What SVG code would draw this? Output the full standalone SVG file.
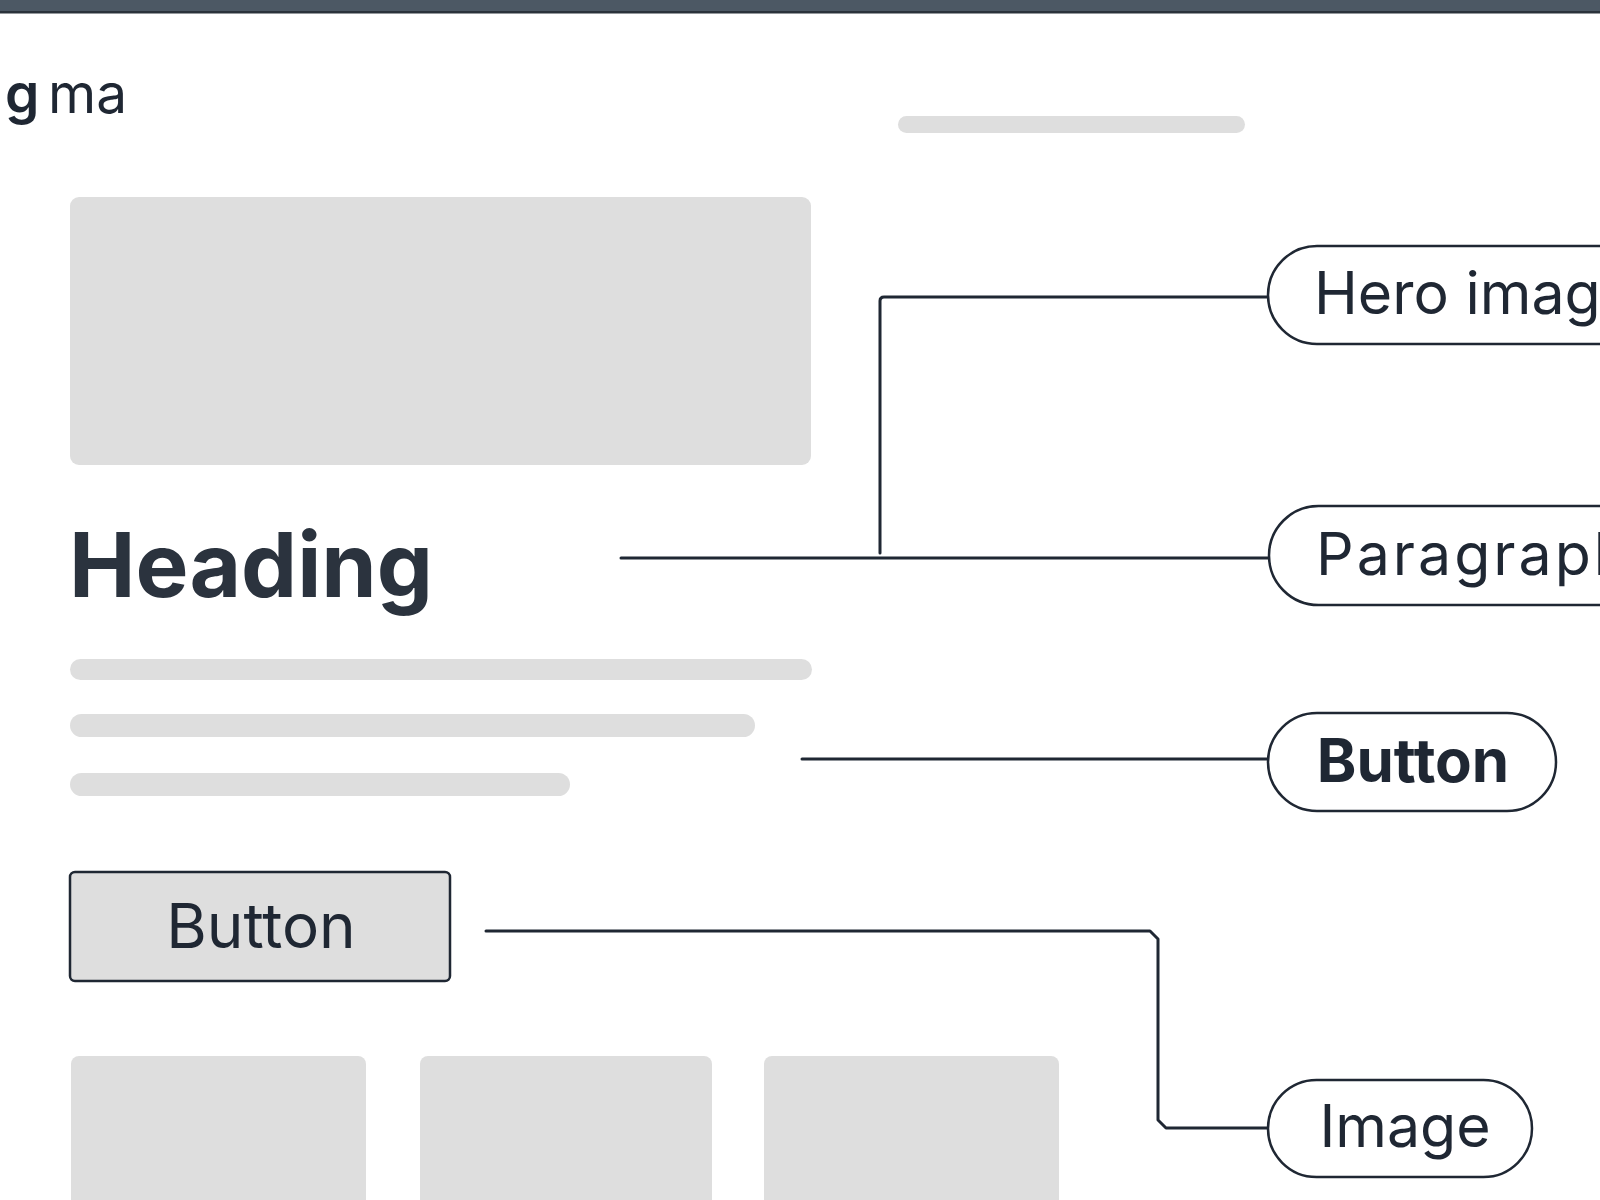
<svg xmlns="http://www.w3.org/2000/svg" width="1600" height="1200" viewBox="0 0 1600 1200">
<style>
.ph{fill:#dedede}
.t{font-family:Inter,"Liberation Sans",sans-serif;fill:#1f2733}
.pill{fill:#ffffff;stroke:#1f2733;stroke-width:2.5}
.conn{fill:none;stroke:#1f2733;stroke-width:3;stroke-linecap:round;stroke-linejoin:round}
</style>
<rect x="0" y="0" width="1600" height="1200" fill="#ffffff"/>
<g id="topbar">
<rect x="0" y="0" width="1600" height="13" fill="#4c5864"/>
<rect x="0" y="11" width="1600" height="2.5" fill="#2a323b"/>
</g>
<g id="logo"><text class="t" y="113" font-size="55"><tspan x="5" font-weight="600">g</tspan><tspan x="48">ma</tspan></text></g>
<g id="nav-bar"><rect class="ph" x="898" y="116" width="347" height="17" rx="8.5"/></g>
<g id="hero"><rect class="ph" x="70" y="197" width="741" height="268" rx="9"/></g>
<g id="heading"><text class="t" x="69" y="597" font-size="89" font-weight="700" style="fill:#2b333e">Heading</text></g>
<g id="paragraph">
<rect class="ph" x="70" y="659" width="742" height="21" rx="10.5"/>
<rect class="ph" x="70" y="714" width="685" height="23" rx="11.5"/>
<rect class="ph" x="70" y="773" width="500" height="23" rx="11.5"/>
</g>
<g id="button">
<rect x="70" y="872" width="380" height="109" rx="5" fill="#dedede" stroke="#1f2733" stroke-width="2.5"/>
<text class="t" x="261" y="948" font-size="62" text-anchor="middle">Button</text>
</g>
<g id="cards">
<rect class="ph" x="71" y="1056" width="295" height="170" rx="8"/>
<rect class="ph" x="420" y="1056" width="292" height="170" rx="8"/>
<rect class="ph" x="764" y="1056" width="295" height="170" rx="8"/>
</g>
<g id="connectors">
<path class="conn" d="M880 553 V301 Q880 297 884 297 H1268"/>
<path class="conn" d="M621 558 H1268"/>
<path class="conn" d="M802 759 H1268"/>
<path class="conn" d="M486 931 H1150 L1158 939 V1120 L1166 1128 H1268"/>
</g>
<g id="label-hero">
<rect class="pill" x="1268" y="246" width="420" height="98" rx="49"/>
<text class="t" x="1314" y="314" font-size="59">Hero image</text>
</g>
<g id="label-paragraph">
<rect class="pill" x="1269" y="506" width="420" height="99" rx="49.5"/>
<text class="t" x="1316" y="575" font-size="59" letter-spacing="3">Paragraph</text>
</g>
<g id="label-button">
<rect class="pill" x="1268" y="713" width="288" height="98" rx="49"/>
<text class="t" x="1413" y="782" font-size="60" font-weight="700" text-anchor="middle">Button</text>
</g>
<g id="label-image">
<rect class="pill" x="1268" y="1080" width="264" height="97" rx="48.5"/>
<text class="t" x="1405" y="1147" font-size="59" text-anchor="middle">Image</text>
</g>
</svg>
